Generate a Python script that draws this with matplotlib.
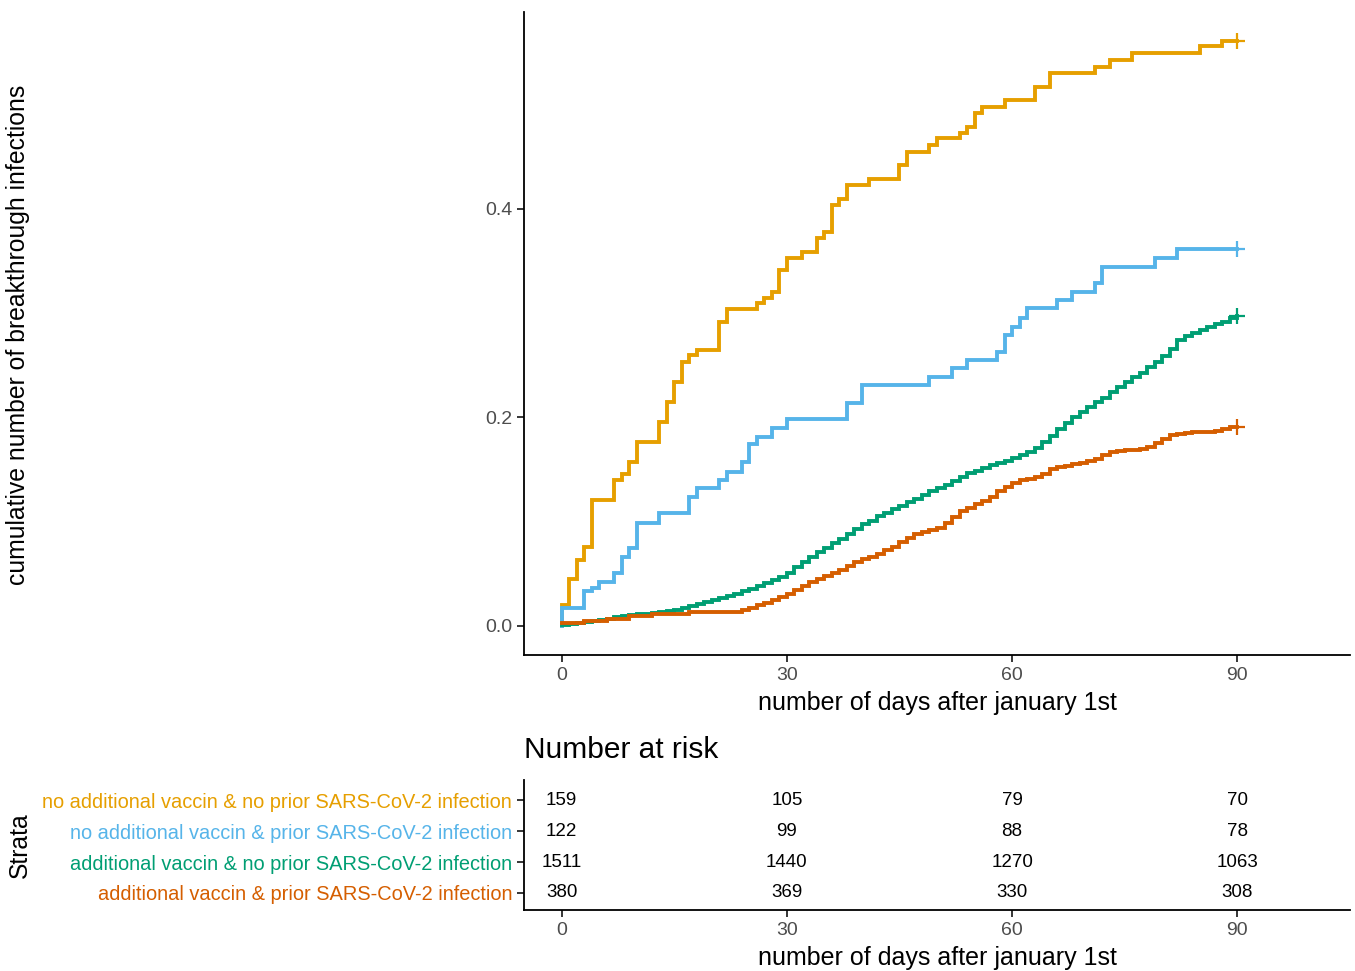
import numpy as np
import matplotlib
matplotlib.use('Agg')
import matplotlib.pyplot as plt

###################################################################################################
# Data (days after jan 1st, cumulative incidence)
strata = ['no additional vaccin & no prior SARS-CoV-2 infection',
          'no additional vaccin & prior SARS-CoV-2 infection',
          'additional vaccin & no prior SARS-CoV-2 infection',
          'additional vaccin & prior SARS-CoV-2 infection']
colors = ['#E69F00', '#56B4E9', '#009E73', '#D55E00']

days_orange = [0, 0, 1, 2, 3, 4, 7, 8, 9, 10, 13, 14, 15, 16, 17, 18, 21, 22, 26, 27, 28, 29,
               30, 32, 34, 35, 36, 37, 38, 41, 45, 46, 49, 50, 53, 54, 55, 56, 59, 63, 65, 71,
               73, 76, 85, 88, 90]
cum_orange = [0.0, 0.020, 0.045, 0.063, 0.076, 0.121, 0.140, 0.146, 0.157, 0.176, 0.196,
              0.215, 0.234, 0.253, 0.260, 0.265, 0.292, 0.304, 0.310, 0.315, 0.320, 0.341,
              0.353, 0.359, 0.372, 0.378, 0.404, 0.410, 0.423, 0.429, 0.442, 0.455, 0.461,
              0.468, 0.473, 0.479, 0.492, 0.498, 0.505, 0.517, 0.530, 0.536, 0.543, 0.550,
              0.556, 0.561, 0.561]

days_blue = [0, 0, 3, 4, 5, 7, 8, 9, 10, 13, 17, 18, 21, 22, 24, 25, 26, 28, 30, 38, 40, 49,
             52, 54, 58, 59, 60, 61, 62, 66, 68, 71, 72, 79, 82, 90]
cum_blue = [0.0, 0.017, 0.033, 0.036, 0.042, 0.051, 0.066, 0.075, 0.099, 0.108, 0.124, 0.132,
            0.140, 0.148, 0.157, 0.174, 0.181, 0.190, 0.198, 0.214, 0.231, 0.239, 0.247,
            0.255, 0.263, 0.279, 0.287, 0.295, 0.305, 0.313, 0.320, 0.329, 0.344, 0.353,
            0.362, 0.362]

days_green = list(range(0, 91))
cum_green = [0.001, 0.002, 0.003, 0.004, 0.005, 0.006, 0.007, 0.008, 0.009, 0.010,
             0.011, 0.011, 0.012, 0.013, 0.014, 0.015, 0.017, 0.019, 0.021, 0.023,
             0.025, 0.027, 0.029, 0.031, 0.033, 0.035, 0.038, 0.041, 0.044, 0.047,
             0.051, 0.056, 0.061, 0.066, 0.071, 0.075, 0.079, 0.083, 0.088, 0.093,
             0.098, 0.101, 0.105, 0.108, 0.112, 0.115, 0.119, 0.122, 0.126, 0.129,
             0.132, 0.135, 0.139, 0.143, 0.147, 0.149, 0.151, 0.154, 0.156, 0.158,
             0.161, 0.164, 0.167, 0.171, 0.176, 0.182, 0.189, 0.195, 0.200, 0.205,
             0.210, 0.215, 0.219, 0.224, 0.229, 0.234, 0.239, 0.243, 0.248, 0.253,
             0.259, 0.266, 0.274, 0.278, 0.281, 0.284, 0.287, 0.290, 0.292, 0.295,
             0.297]

days_red = [0, 3, 6, 9, 12, 17] + list(range(24, 91))
cum_red = [0.003, 0.005, 0.007, 0.009, 0.011, 0.013,
           0.015, 0.017, 0.020, 0.022, 0.025, 0.028, 0.031, 0.034, 0.038, 0.042,
           0.045, 0.048, 0.051, 0.054, 0.057, 0.061, 0.064, 0.066, 0.069, 0.073,
           0.076, 0.080, 0.084, 0.088, 0.090, 0.092, 0.094, 0.099, 0.104, 0.110,
           0.113, 0.117, 0.120, 0.124, 0.129, 0.133, 0.137, 0.140, 0.141, 0.143,
           0.146, 0.150, 0.152, 0.153, 0.155, 0.156, 0.158, 0.160, 0.164, 0.167,
           0.168, 0.169, 0.169, 0.170, 0.172, 0.175, 0.179, 0.183, 0.184, 0.185,
           0.186, 0.186, 0.186, 0.187, 0.189, 0.191, 0.191]

risk_times = [0, 30, 60, 90]
risk_orange = [159, 105, 79, 70]
risk_blue = [122, 99, 88, 78]
risk_green = [1511, 1440, 1270, 1063]
risk_red = [380, 369, 330, 308]
###################################################################################################

plt.rcParams['font.family'] = ['Liberation Sans', 'DejaVu Sans']
W, H = 1355, 971
tick_grey = '#4D4D4D'

fig = plt.figure(figsize=(W / 100, H / 100), dpi=100)

# Main curve panel
ax = fig.add_axes([524 / W, 1 - 655 / H, 826 / W, 643 / H])
curves = [(days_orange, cum_orange), (days_blue, cum_blue),
          (days_green, cum_green), (days_red, cum_red)]
for (d, c), col in zip(curves, colors):
	ax.step(d, c, where='post', color=col, lw=2.8, solid_joinstyle='miter')
	ax.plot(d[-1], c[-1], marker='+', ms=12, mew=1.6, color=col)

ax.set_xlim(-5, 105)
ax.set_ylim(-0.028, 0.589)
ax.set_xticks([0, 30, 60, 90])
ax.set_yticks([0.0, 0.2, 0.4])
ax.set_yticklabels(['0.0', '0.2', '0.4'])
for s in ['top', 'right']:
	ax.spines[s].set_visible(False)
for s in ['left', 'bottom']:
	ax.spines[s].set_linewidth(1.3)
ax.tick_params(axis='both', length=5, width=1.1, labelsize=14, labelcolor=tick_grey)
ax.set_xlabel('number of days after january 1st', fontsize=18, labelpad=5)

fig.text(18 / W, 1 - 335 / H, 'cumulative number of breakthrough infections',
         rotation=90, ha='center', va='center', fontsize=17.8)

# Number at risk table
tab = fig.add_axes([524 / W, 1 - 910 / H, 826 / W, 130 / H])
tab.set_xlim(-5, 105)
tab.set_ylim(0.45, 4.65)
risks = [risk_orange, risk_blue, risk_green, risk_red]
rows = [4, 3, 2, 1]
for r, vals in zip(rows, risks):
	for t, v in zip(risk_times, vals):
		tab.text(t, r, str(v), ha='center', va='center', fontsize=13.5, color='black')

tab.set_xticks([0, 30, 60, 90])
tab.set_yticks(rows)
tab.set_yticklabels(strata)
for lbl, col in zip(tab.get_yticklabels(), colors):
	lbl.set_color(col)
	lbl.set_fontsize(14.4)
for s in ['top', 'right']:
	tab.spines[s].set_visible(False)
for s in ['left', 'bottom']:
	tab.spines[s].set_linewidth(1.3)
tab.tick_params(axis='both', length=5, width=1.1)
tab.tick_params(axis='x', labelsize=14, labelcolor=tick_grey)
tab.set_xlabel('number of days after january 1st', fontsize=18, labelpad=5)

fig.text(20 / W, 1 - 845 / H, 'Strata', rotation=90, ha='center', va='center', fontsize=17.8)
fig.text(524 / W, 1 - 750 / H, 'Number at risk', ha='left', va='center', fontsize=21.5)

fig.savefig('out.png', dpi=100)
